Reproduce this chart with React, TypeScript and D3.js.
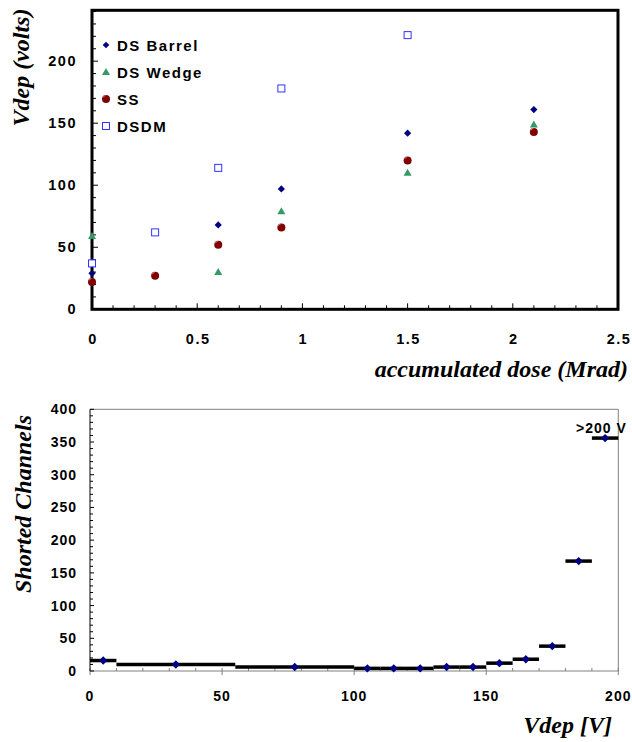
import React from "react";
import * as d3 from "d3";

// ---- Top chart data ----
const doseDSBarrel = [0, 0.3, 0.6, 0.9, 1.5, 2.1];
const vDSBarrel = [29, 27, 68, 97, 142, 161];
const doseDSWedge = [0, 0.6, 0.9, 1.5, 2.1];
const vDSWedge = [59, 30, 79, 110, 149];
const doseSS = [0, 0.3, 0.6, 0.9, 1.5, 2.1];
const vSS = [22, 27, 52, 66, 120, 143];
const doseDSDM = [0, 0.3, 0.6, 0.9, 1.5];
const vDSDM = [37, 62, 114, 178, 221];
const topXTicks = [0, 0.5, 1, 1.5, 2, 2.5];
const topXTickLabels = ["0", "0.5", "1", "1.5", "2", "2.5"];
const topYTicks = [0, 50, 100, 150, 200];
const legendLabels = ["DS Barrel", "DS Wedge", "SS", "DSDM"];

// ---- Bottom chart data ----
const binLow = [0, 10, 55, 100, 110, 120, 130, 140, 150, 160, 170, 180, 190];
const binHigh = [10, 55, 100, 110, 120, 130, 140, 150, 160, 170, 180, 190, 200];
const binCenter = [5, 32.5, 77.5, 105, 115, 125, 135, 145, 155, 165, 175, 185, 195];
const shorted = [16, 10, 6, 4, 4, 4, 6, 6, 12, 18, 38, 168, 356];
const botXTicks = [0, 50, 100, 150, 200];
const botYTicks = [0, 50, 100, 150, 200, 250, 300, 350, 400];

const NAVY = "#000080";
const GREEN = "#339966";
const DRED = "#800000";
const BLUE = "#3333ff";
const SANS = "Arial, 'Liberation Sans', sans-serif";
const SERIF = "'Times New Roman', 'Liberation Serif', serif";

function Diamond({ x, y, r = 3.6 }: { x: number; y: number; r?: number }) {
  return <path d={`M${x},${y - r}L${x + r},${y}L${x},${y + r}L${x - r},${y}Z`} fill={NAVY} />;
}
function Tri({ x, y }: { x: number; y: number }) {
  return <path d={`M${x},${y - 4}L${x + 4},${y + 3}L${x - 4},${y + 3}Z`} fill={GREEN} />;
}
function Circ({ x, y }: { x: number; y: number }) {
  return (
    <g>
      <circle cx={x} cy={y} r={4} fill={DRED} />
      <path d={`M${x - 3},${y - 1.5}A3.2,3.2 0 0 1 ${x - 0.5},${y - 3.5}`} stroke="#d08080" strokeWidth={1} fill="none" />
    </g>
  );
}
function Sq({ x, y }: { x: number; y: number }) {
  return <rect x={x - 3.5} y={y - 3.5} width={7} height={7} fill="white" stroke={BLUE} strokeWidth={1} />;
}

export default function App() {
  // top scales
  const tx = d3.scaleLinear().domain([0, 2.5]).range([92, 618]);
  const ty = d3.scaleLinear().domain([0, 241]).range([309.3, 10.3]);
  // bottom scales
  const bx = d3.scaleLinear().domain([0, 200]).range([90, 618.3]);
  const by = d3.scaleLinear().domain([0, 400]).range([671, 409.3]);

  const topXMinor = d3.range(0, 2.5001, 0.1);
  const topYMinor = d3.range(0, 241, 10);
  const botXMinor = d3.range(0, 200.001, 10);
  const botYMinor = d3.range(0, 400.001, 10);

  const legendY = [45, 72, 99, 126];

  return (
    <svg width={632} height={742} style={{ position: "absolute", left: 0, top: 0, background: "white" }}>
      <rect width={632} height={742} fill="white" />
      {/* ===== Top chart ===== */}
      {topXMinor.map((v, i) => {
        const major = Math.abs(v * 2 - Math.round(v * 2)) < 1e-6;
        return <line key={"txm" + i} x1={tx(v)} x2={tx(v)} y1={309.3} y2={309.3 - (major ? 6 : 4)} stroke="#000" strokeWidth={1} />;
      })}
      {topYMinor.map((v, i) => {
        const major = v % 50 === 0;
        return <line key={"tym" + i} x1={92} x2={92 + (major ? 6 : 4)} y1={ty(v)} y2={ty(v)} stroke="#000" strokeWidth={1} />;
      })}
      <rect x={92} y={10.3} width={526} height={299} fill="none" stroke="#000" strokeWidth={3} />
      {topYTicks.map((v) => (
        <text key={"tyl" + v} x={77} y={ty(v) + 5} textAnchor="end" fontFamily={SANS} fontWeight="bold" fontSize={14.5} letterSpacing={1.5}>
          {v}
        </text>
      ))}
      {topXTicks.map((v, i) => (
        <text key={"txl" + v} x={tx(v) + 1} y={344} textAnchor="middle" fontFamily={SANS} fontWeight="bold" fontSize={14.5} letterSpacing={1.5}>
          {topXTickLabels[i]}
        </text>
      ))}
      <text x={628} y={377} textAnchor="end" fontFamily={SERIF} fontWeight="bold" fontStyle="italic" fontSize={24}>
        accumulated dose (Mrad)
      </text>
      <text transform={`translate(29,67.5) rotate(-90)`} textAnchor="middle" fontFamily={SERIF} fontWeight="bold" fontStyle="italic" fontSize={24}>
        Vdep (volts)
      </text>
      {/* data */}
      {doseDSDM.map((d, i) => <Sq key={"sq" + i} x={tx(d)} y={ty(vDSDM[i])} />)}
      {doseDSBarrel.map((d, i) => <Diamond key={"di" + i} x={tx(d)} y={ty(vDSBarrel[i])} />)}
      {doseDSWedge.map((d, i) => <Tri key={"tr" + i} x={tx(d)} y={ty(vDSWedge[i])} />)}
      {doseSS.map((d, i) => <Circ key={"ci" + i} x={tx(d)} y={ty(vSS[i])} />)}
      {/* legend */}
      <Diamond x={106} y={legendY[0]} r={3.3} />
      <Tri x={106} y={legendY[1]} />
      <Circ x={106} y={legendY[2]} />
      <Sq x={106} y={legendY[3]} />
      {legendLabels.map((l, i) => (
        <text key={"lg" + i} x={117} y={legendY[i] + 5.5} fontFamily={SANS} fontWeight="bold" fontSize={15} letterSpacing={1.5}>
          {l}
        </text>
      ))}

      {/* ===== Bottom chart ===== */}
      <line x1={90} x2={618.3} y1={409.3} y2={409.3} stroke="#808080" strokeWidth={1} />
      <line x1={618.3} x2={618.3} y1={409.3} y2={671} stroke="#808080" strokeWidth={1} />
      <line x1={90} x2={618.3} y1={671} y2={671} stroke="#808080" strokeWidth={1} />
      {botXMinor.map((v, i) => {
        const major = v % 50 === 0;
        return <line key={"bxm" + i} x1={bx(v)} x2={bx(v)} y1={major ? 675 : 671} y2={668} stroke="#808080" strokeWidth={1} />;
      })}
      {botYMinor.map((v, i) => {
        const major = v % 50 === 0;
        return <line key={"bym" + i} x1={90} x2={90 + (major ? 4 : 3)} y1={by(v)} y2={by(v)} stroke="#000" strokeWidth={1} />;
      })}
      <line x1={90} x2={90} y1={409.3} y2={671} stroke="#000" strokeWidth={1} />
      {botYTicks.map((v) => (
        <text key={"byl" + v} x={77} y={by(v) + 5} textAnchor="end" fontFamily={SANS} fontWeight="bold" fontSize={14} letterSpacing={1}>
          {v}
        </text>
      ))}
      {botXTicks.map((v) => (
        <text key={"bxl" + v} x={bx(v)} y={701} textAnchor="middle" fontFamily={SANS} fontWeight="bold" fontSize={14} letterSpacing={1}>
          {v}
        </text>
      ))}
      <text x={612} y={733} textAnchor="end" fontFamily={SERIF} fontWeight="bold" fontStyle="italic" fontSize={24}>
        Vdep [V]
      </text>
      <text transform={`translate(31,504) rotate(-90)`} textAnchor="middle" fontFamily={SERIF} fontWeight="bold" fontStyle="italic" fontSize={24}>
        Shorted Channels
      </text>
      {binLow.map((lo, i) => (
        <line key={"bar" + i} x1={bx(lo)} x2={bx(binHigh[i])} y1={by(shorted[i])} y2={by(shorted[i])} stroke="#000" strokeWidth={3.5} />
      ))}
      {binCenter.map((c, i) => <Diamond key={"bd" + i} x={bx(c)} y={by(shorted[i])} r={4.2} />)}
      <text x={576} y={433} fontFamily={SANS} fontWeight="bold" fontSize={14} letterSpacing={1}>
        &gt;200 V
      </text>
    </svg>
  );
}
